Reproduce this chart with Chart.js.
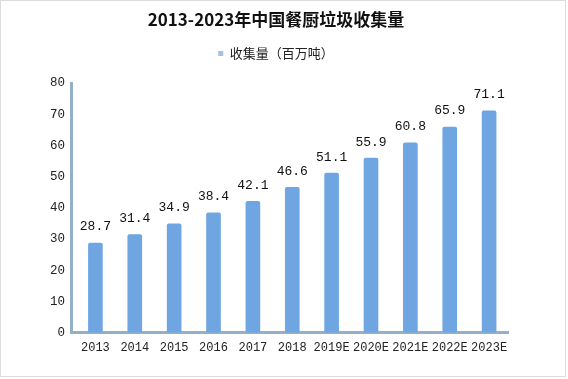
<!DOCTYPE html>
<html>
<head>
<meta charset="utf-8">
<script src="https://cdn.jsdelivr.net/npm/chart.js@4/dist/chart.umd.min.js"></script>
<style>
  html, body { margin: 0; padding: 0; background: #fff; }
  #wrap { width: 568px; height: 379px; position: relative; }
</style>
</head>
<body>
<div id="wrap"><canvas id="c" width="568" height="379"></canvas></div>
<script>
const titleText = '2013-2023年中国餐厨垃圾收集量';
const seriesName = '收集量（百万吨）';
const categories = ['2013', '2014', '2015', '2016', '2017', '2018', '2019E', '2020E', '2021E', '2022E', '2023E'];
const values = [28.7, 31.4, 34.9, 38.4, 42.1, 46.6, 51.1, 55.9, 60.8, 65.9, 71.1];
const yTicks = [0, 10, 20, 30, 40, 50, 60, 70, 80];

const frame = {
  id: 'frame',
  beforeDraw(chart) {
    const ctx = chart.ctx;
    ctx.save();
    ctx.fillStyle = '#ffffff';
    ctx.fillRect(0, 0, chart.width, chart.height);
    ctx.strokeStyle = '#dcdcdc';
    ctx.lineWidth = 1;
    ctx.strokeRect(0.5, 0.5, 565, 376);
    ctx.restore();
  }
};

const valueLabels = {
  id: 'valueLabels',
  afterDatasetsDraw(chart) {
    const ctx = chart.ctx;
    const meta = chart.getDatasetMeta(0);
    ctx.save();
    ctx.font = '13px "Liberation Mono", monospace';
    ctx.fillStyle = '#111';
    ctx.textAlign = 'center';
    ctx.textBaseline = 'middle';
    meta.data.forEach((el, i) => {
      ctx.fillText(values[i].toFixed(1), el.x, el.y - 16);
    });
    ctx.restore();
  }
};

new Chart(document.getElementById('c'), {
  type: 'bar',
  data: {
    labels: categories,
    datasets: [{
      label: seriesName,
      data: values,
      backgroundColor: '#6fa6e1',
      borderWidth: 0,
      borderRadius: 2,
      borderSkipped: false,
      barThickness: 14
    }]
  },
  options: {
    responsive: false,
    animation: false,
    layout: { padding: { top: 2, left: 44, right: 60, bottom: 16 } },
    plugins: {
      title: {
        display: true,
        text: titleText,
        color: '#111',
        font: { family: '"Noto Sans CJK SC"', size: 17, weight: 'bold', lineHeight: 1.0 },
        padding: { top: 9, bottom: 0 }
      },
      subtitle: {
        display: true,
        text: ' ',
        position: 'top',
        weight: 500,
        font: { size: 1, lineHeight: 1 },
        padding: { top: 0, bottom: 12 }
      },
      legend: {
        display: true,
        labels: {
          color: '#222',
          font: { family: '"Noto Sans CJK SC"', size: 13 },
          boxWidth: 5,
          boxHeight: 5,
          padding: 19,
          generateLabels(chart) {
            return [{
              text: seriesName,
              fillStyle: '#a9bfd6',
              strokeStyle: '#a9bfd6',
              lineWidth: 0,
              hidden: false,
              datasetIndex: 0,
              fontColor: '#222'
            }];
          }
        }
      },
      tooltip: { enabled: false }
    },
    scales: {
      x: {
        offset: true,
        grid: { display: false, drawTicks: false },
        border: { display: true, color: '#93b0c8', width: 3 },
        ticks: {
          color: '#222',
          font: { family: '"Liberation Mono", monospace', size: 12 },
          padding: 8,
          maxRotation: 0,
          autoSkip: false
        },
        afterBuildTicks(scale) {
          scale._startValue = -0.62;
          scale._valueRange = 11.1;
        }
      },
      y: {
        min: 0,
        max: 80,
        grid: { display: false, drawTicks: false },
        border: { display: true, color: '#93b0c8', width: 3 },
        afterBuildTicks(scale) {
          scale.ticks = yTicks.map(v => ({ value: v }));
        },
        ticks: {
          color: '#222',
          font: { family: '"Liberation Mono", monospace', size: 12.5 },
          padding: 6
        }
      }
    }
  },
  plugins: [frame, valueLabels]
});
</script>
</body>
</html>
